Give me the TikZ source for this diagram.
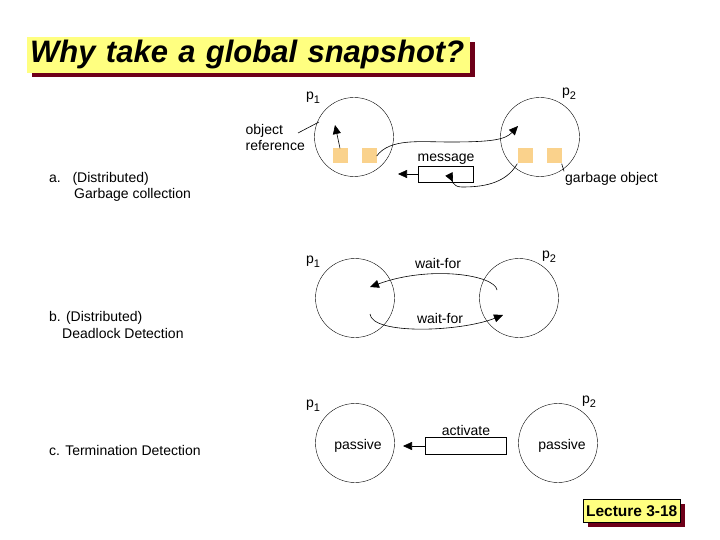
\documentclass[tikz,border=0pt]{standalone}
\usepackage{fontspec}
\setmainfont{Liberation Sans}
\usepackage{tikz}
\usetikzlibrary{positioning,arrows.meta,calc}
\definecolor{shadowRed}{RGB}{110,0,25}
\definecolor{titleYellow}{RGB}{255,255,128}
\definecolor{objOrange}{RGB}{250,210,140}
\newcommand{\procname}[1]{p\raisebox{-4pt}{\fontsize{11}{12}\selectfont #1}}
\begin{document}
\begin{tikzpicture}[x=1pt, y=-1pt,
txt/.style = {font=\fontsize{14}{16}\selectfont, inner sep=1pt},
process/.style = {draw, circle, minimum size=79pt, inner sep=0pt},
object/.style = {fill=objOrange, minimum size=15pt, inner sep=0pt},
msgbox/.style = {draw, rectangle, minimum width=55pt, minimum height=16pt, inner sep=0pt},
ref/.style = {-{Triangle[length=9pt,width=8pt]}},
wire/.style = {line width=0.6pt}]
\useasboundingbox (0,0) rectangle (720,540);
\fill[white] (0,0) rectangle (720,540);

% title and footer
\fill[shadowRed] (32,42) rectangle (475,77);
\node[fill=titleYellow, minimum width=443pt, minimum height=35pt, anchor=north west, text width=437pt, align=left,
  font=\fontsize{31}{34}\selectfont\bfseries\itshape, inner xsep=3pt] (title) at (27,37) {Why take a global snapshot?};
\fill[shadowRed] (588,504) rectangle (685,527);
\node[draw, fill=titleYellow, minimum width=97pt, minimum height=23pt, anchor=north west,
  font=\fontsize{15.5}{17}\selectfont\bfseries, inner sep=0pt] (lecture) at (583,499) {Lecture 3-18};

% a. garbage collection
\node[txt, anchor=west] (la) at (48,179) {a.\ \ \ (Distributed)};
\node[txt, anchor=west] (la2) at (73,195) {Garbage collection};
\node[process] (A1) at (354,137) {};
\node[process] (A2) at (540,137) {};
\node[txt] (A1l) at (313,98) {\procname{1}};
\node[txt] (A2l) at (569,94) {\procname{2}};
\node[object] (o1) at (340,156) {};
\node[object] (o2) at (369,156) {};
\node[object] (o3) at (525,156) {};
\node[object] (o4) at (554,156) {};
\node[msgbox] (msg) at (446,174) {};
\node[txt, above=0pt of msg] (msgl) {message};
\coordinate (msgout) at (398,174);
\coordinate (tA1) at (335,125);
\coordinate (tA2) at (518,126);
\coordinate (tmsg) at (453,182);
\draw[wire, ref] (msg.west) -- (msgout);
\draw[wire, ref] (o1.north) -- (tA1);
\draw[wire, ref] (o2.east) .. controls (390,138) and (420,142) .. (450,142)
  .. controls (490,142) and (505,140) .. (tA2);
\draw[wire, ref] (o3.south west) .. controls (505,185) and (480,187) .. (462,187)
  .. controls (452,187) and (452,180) .. (tmsg);
\node[txt, align=left, anchor=east] (objref) at (306,137) {object\\reference};
\draw[wire] (objref.east) ++(-8,-4) -- (319,122);
\node[txt, anchor=west] (garb) at (564,179) {garbage object};
\draw[wire] (o4.south east) -- (garb.north west);

% b. deadlock detection
\node[txt, anchor=west] (lb) at (48,318) {b. (Distributed)};
\node[txt, anchor=west] (lb2) at (61,333) {Deadlock Detection};
\node[process] (B1) at (355,298) {};
\node[process] (B2) at (519,298) {};
\node[txt] (B1l) at (313,262) {\procname{1}};
\node[txt] (B2l) at (549,257) {\procname{2}};
\coordinate (b2top) at (497,290);
\coordinate (b1in) at (370,287);
\coordinate (b1bot) at (370,314);
\coordinate (b2in) at (503,315);
\draw[wire, ref] (b2top) .. controls (495,275) and (430,265) .. (b1in);
\draw[wire, ref] (b1bot) .. controls (372,335) and (460,332) .. (b2in);
\node[txt] (wf1) at (438,263) {wait-for};
\node[txt] (wf2) at (440,318) {wait-for};

% c. termination detection
\node[txt, anchor=west] (lc) at (48,450) {c. Termination Detection};
\node[process] (C1) at (355,443) {};
\node[process] (C2) at (558,443) {};
\node[txt] (C1l) at (313,406) {\procname{1}};
\node[txt] (C2l) at (589,402) {\procname{2}};
\node[txt] (pas1) at (358,446) {passive};
\node[txt] (pas2) at (562,446) {passive};
\node[msgbox, minimum width=81pt, minimum height=17pt] (act) at (466,446) {};
\node[txt, above=0pt of act] (actl) {activate};
\coordinate (actout) at (403,446);
\draw[wire, ref] (act.west) -- (actout);
\end{tikzpicture}
\end{document}
